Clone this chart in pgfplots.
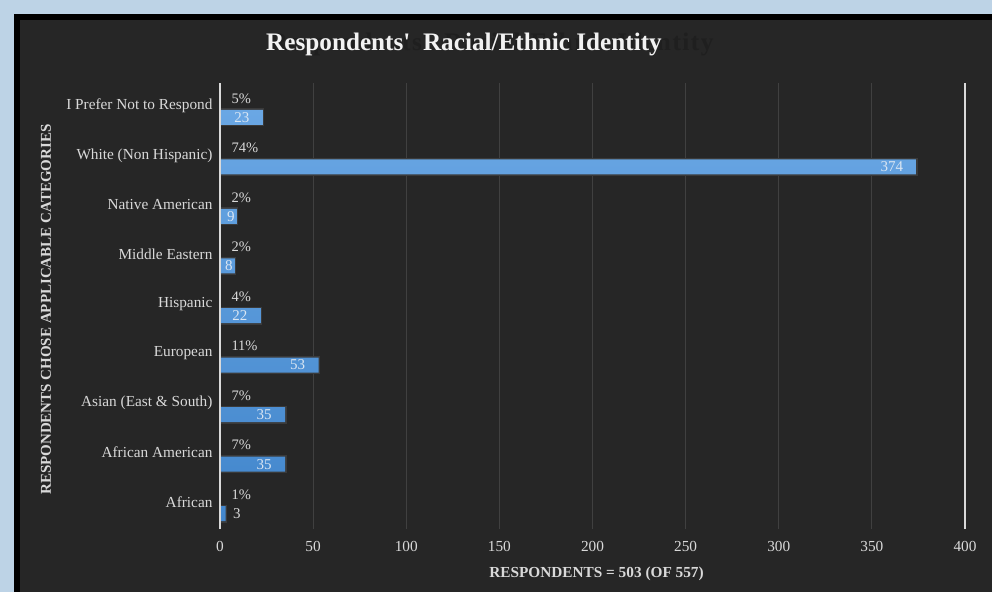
\documentclass[border=0pt]{standalone}
\usepackage{fontspec}
\setmainfont{Liberation Serif}
\usepackage{pgfplots}
\usepackage{pgfplotstable}
\pgfplotsset{compat=1.18}
\definecolor{bgblue}{RGB}{189,211,230}
\definecolor{darkbg}{RGB}{38,38,38}
\definecolor{gridc}{RGB}{64,64,64}
\definecolor{txt}{RGB}{217,217,217}
\definecolor{titlec}{RGB}{242,242,242}
\definecolor{bartop}{RGB}{106,167,228}
\definecolor{barbot}{RGB}{66,134,204}
\definecolor{glow}{RGB}{58,58,58}
\definecolor{ghost}{RGB}{31,31,31}
\definecolor{inlab}{RGB}{218,230,243}

\pgfplotstableread{
y n pct
0 3 1
1 35 7
2 35 7
3 53 11
4 22 4
5 8 2
6 9 2
7 374 74
8 23 5
}\datatable

\begin{document}
\begin{tikzpicture}[x=1pt,y=1pt]
\useasboundingbox (0,0) rectangle (992,592);
\fill[bgblue] (0,0) rectangle (992,592);
\fill[black] (14,0) rectangle (992,578);
\fill[darkbg] (20,0) rectangle (992,572);
\begin{axis}[
  at={(220pt,63pt)}, anchor=south west, scale only axis,
  width=745pt, height=446pt,
  xmin=0, xmax=400, ymin=-0.5, ymax=8.5,
  xtick={0,50,...,400}, ytick={0,...,8},
  yticklabels={African, African American, Asian (East \& South), European, Hispanic, Middle Eastern, Native American, White (Non Hispanic), I Prefer Not to Respond},
  axis line style={draw=none}, major tick length=0pt,
  xmajorgrids, major grid style={gridc, line width=1pt},
  extra x ticks={400}, extra x tick labels={},
  extra x tick style={grid=major, major grid style={txt, line width=1.2pt}},
  ticklabel style={font=\fontsize{15.3}{18}\selectfont, text=txt},
  /pgf/number format/assume math mode=true,
  xticklabel style={yshift=-8.5pt},
  yticklabel style={xshift=-4pt, yshift=2pt},
  title={Respondents\textquotesingle\ \ Racial/Ethnic Identity},
  title style={at={(axis description cs:0.3275,1.0605)}, anchor=base, font=\fontsize{25.2}{30}\selectfont\bfseries, text=titlec},
  xlabel={RESPONDENTS = 503 (OF 557)},
  xlabel style={at={(axis description cs:0.5054,-0.1)}, anchor=center, font=\fontsize{15.3}{18}\selectfont\bfseries, text=txt},
  ylabel={RESPONDENTS CHOSE APPLICABLE CATEGORIES},
  ylabel style={at={(axis description cs:-0.2336,0.4917)}, anchor=center, font=\fontsize{15}{18}\selectfont\bfseries, text=txt},
  clip=false,
]
\node[anchor=base west, text=ghost, font=\fontsize{25.2}{30}\selectfont\bfseries\addfontfeature{LetterSpace=6}] at (axis description cs:0.0617,1.074) {Respondents\textquotesingle\ \ Racial/Ethnic Identity};
% glow behind bars
\addplot[xbar, bar width=15pt, bar shift=-9.5pt, draw=glow, line width=3pt, fill=glow] table[x=n, y=y]{\datatable};
% bars
\addplot[xbar, bar width=15pt, bar shift=-9.5pt, draw=none, top color=bartop, bottom color=barbot] table[x=n, y=y]{\datatable};
% vertical axis line
\draw[txt, line width=1.2pt] (axis cs:0,-0.5) -- (axis cs:0,8.5);
% percent labels
\addplot[draw=none, mark=none, point meta=explicit,
  nodes near coords={\pgfmathprintnumber{\pgfplotspointmeta}\%},
  nodes near coords style={anchor=west, xshift=8pt, yshift=9.5pt, text=txt, font=\fontsize{14.5}{17}\selectfont}]
  table[x expr=0, y=y, meta=pct]{\datatable};
% count labels inside long bars
\addplot[draw=none, mark=none, point meta=x, restrict x to domain=20:400,
  nodes near coords, nodes near coords style={anchor=east, xshift=-10pt, yshift=-9.5pt, text=inlab, font=\fontsize{15}{18}\selectfont}]
  table[x=n, y=y]{\datatable};
% count labels on short bars
\addplot[draw=none, mark=none, point meta=x, restrict x to domain=5:19,
  nodes near coords, nodes near coords style={anchor=center, xshift=-6pt, yshift=-9.5pt, text=inlab, font=\fontsize{15}{18}\selectfont}]
  table[x=n, y=y]{\datatable};
\addplot[draw=none, mark=none, point meta=x, restrict x to domain=0:4,
  nodes near coords, nodes near coords style={anchor=west, xshift=4pt, yshift=-9.5pt, text=txt, font=\fontsize{15}{18}\selectfont}]
  table[x=n, y=y]{\datatable};
\end{axis}
\end{tikzpicture}
\end{document}
